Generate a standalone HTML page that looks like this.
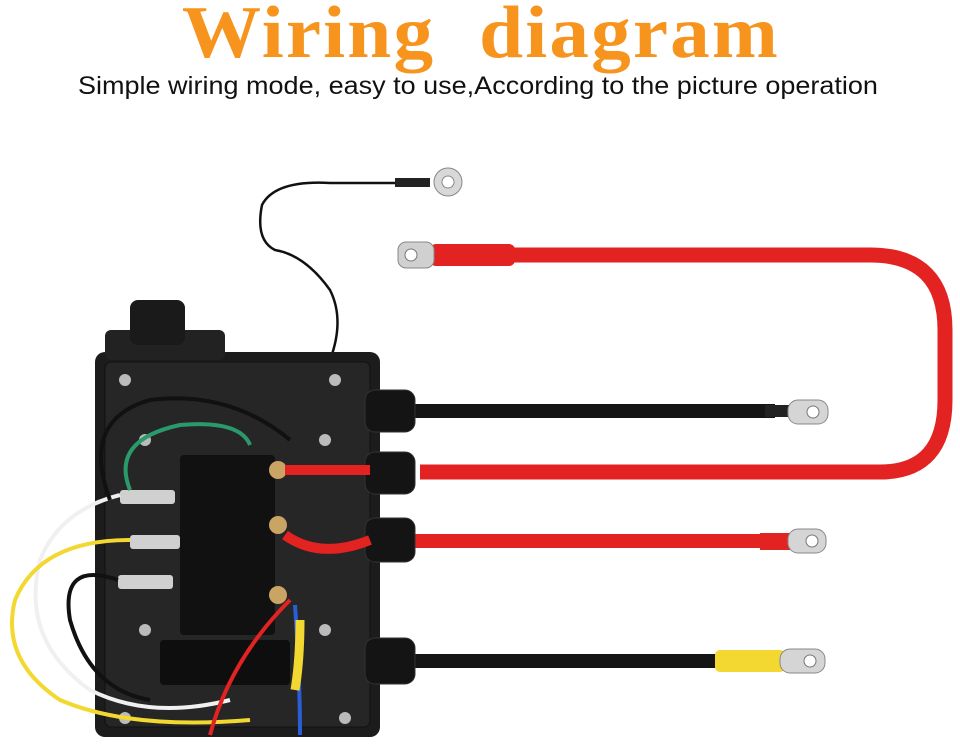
<!DOCTYPE html>
<html><head><meta charset="utf-8"><style>
html,body{margin:0;padding:0;background:#fff;width:960px;height:747px;overflow:hidden}
.t{position:absolute;left:0;top:-9px;width:960px;text-align:center;font-family:"Liberation Serif",serif;font-weight:bold;font-size:74px;color:#f7941d;letter-spacing:2px;transform:scaleX(1.07);transform-origin:467px 0}
.s{position:absolute;left:78px;top:72px;font-family:"Liberation Sans",sans-serif;font-size:25px;color:#111;white-space:nowrap;transform:scaleX(1.08);transform-origin:0 0}
svg{position:absolute;left:0;top:0}
</style></head><body>
<svg width="960" height="747" viewBox="0 0 960 747">
<path d="M420 472 H880 Q945 472 945 400 V330 Q945 255 870 255 H470" fill="none" stroke="#e32222" stroke-width="15"/>
<rect x="430" y="244" width="85" height="22" rx="6" fill="#e32222"/>
<rect x="398" y="242" width="36" height="26" rx="8" fill="#d0d0d0" stroke="#888"/>
<circle cx="411" cy="255" r="6" fill="#fff" stroke="#777"/>
<line x1="410" y1="411" x2="775" y2="411" stroke="#151515" stroke-width="14"/>
<rect x="765" y="405" width="25" height="12" fill="#222"/>
<rect x="788" y="400" width="40" height="24" rx="10" fill="#d5d5d5" stroke="#888"/>
<circle cx="813" cy="412" r="6" fill="#fff" stroke="#777"/>
<line x1="410" y1="541" x2="765" y2="541" stroke="#e32222" stroke-width="14"/>
<rect x="760" y="533" width="30" height="17" fill="#e32222"/>
<rect x="788" y="529" width="38" height="24" rx="10" fill="#d5d5d5" stroke="#888"/>
<circle cx="812" cy="541" r="6" fill="#fff" stroke="#777"/>
<line x1="410" y1="661" x2="720" y2="661" stroke="#151515" stroke-width="14"/>
<rect x="715" y="650" width="70" height="22" rx="5" fill="#f2d830"/>
<rect x="780" y="649" width="45" height="24" rx="10" fill="#d5d5d5" stroke="#888"/>
<circle cx="810" cy="661" r="6" fill="#fff" stroke="#777"/>
<path d="M330 360 Q345 320 330 290 Q305 255 275 250 Q255 240 262 205 Q275 180 330 183 H400" fill="none" stroke="#111" stroke-width="2.5"/>
<rect x="395" y="178" width="35" height="9" fill="#222"/>
<circle cx="448" cy="182" r="14" fill="#d8d8d8" stroke="#888"/>
<circle cx="448" cy="182" r="6" fill="#fff" stroke="#888"/>
<rect x="95" y="352" width="285" height="385" rx="10" fill="#1c1c1c"/>
<rect x="105" y="362" width="265" height="365" rx="6" fill="#262626" stroke="#111"/>
<rect x="105" y="330" width="120" height="30" rx="6" fill="#222"/>
<rect x="130" y="300" width="55" height="45" rx="8" fill="#1a1a1a"/>
<g fill="#141414" stroke="#333">
<rect x="365" y="390" width="50" height="42" rx="10"/>
<rect x="365" y="452" width="50" height="42" rx="10"/>
<rect x="365" y="518" width="50" height="44" rx="10"/>
<rect x="365" y="638" width="50" height="46" rx="10"/>
</g>
<g fill="#bbb"><circle cx="125" cy="380" r="6"/><circle cx="335" cy="380" r="6"/><circle cx="325" cy="440" r="6"/><circle cx="145" cy="440" r="6"/><circle cx="145" cy="630" r="6"/><circle cx="325" cy="630" r="6"/><circle cx="125" cy="718" r="6"/><circle cx="345" cy="718" r="6"/></g>
<rect x="180" y="455" width="95" height="180" rx="4" fill="#111"/>
<g fill="#c9a463"><circle cx="278" cy="470" r="9"/><circle cx="278" cy="525" r="9"/><circle cx="278" cy="595" r="9"/></g>
<g fill="#d0d0d0"><rect x="120" y="490" width="55" height="14" rx="3"/><rect x="130" y="535" width="50" height="14" rx="3"/><rect x="118" y="575" width="55" height="14" rx="3"/></g>
<rect x="160" y="640" width="130" height="45" rx="4" fill="#0e0e0e"/>
<g fill="none" stroke-width="4">
<path d="M285 470 Q340 470 370 470" stroke="#e32222" stroke-width="10"/>
<path d="M285 535 Q320 560 370 540" stroke="#e32222" stroke-width="10"/>
<path d="M120 495 Q60 510 40 560 Q20 640 90 690 Q150 720 230 700" stroke="#f0f0f0"/>
<path d="M130 540 Q40 540 15 600 Q0 660 60 700 Q130 730 250 720" stroke="#f2d830"/>
<path d="M118 580 Q60 560 70 620 Q90 690 150 700" stroke="#111"/>
<path d="M110 500 Q80 420 150 400 Q230 390 290 440" stroke="#111"/>
<path d="M130 490 Q110 440 180 425 Q240 420 250 445" stroke="#2a9a6b"/>
<path d="M295 605 Q300 680 300 735" stroke="#2a5dd8"/>
<path d="M290 600 Q230 660 210 735" stroke="#e32222"/>
<path d="M300 620 Q300 660 295 690" stroke="#f2d830" stroke-width="9"/>
</g>
</svg>
<div class="t">Wiring&nbsp; diagram</div>
<div class="s">Simple wiring mode, easy to use,According to the picture operation</div>
</body></html>
